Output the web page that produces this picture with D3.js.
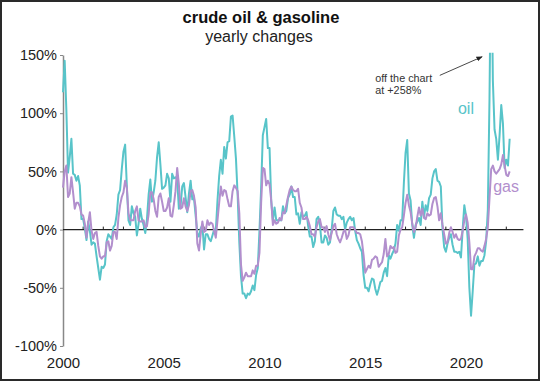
<!DOCTYPE html>
<html>
<head>
<meta charset="utf-8">
<script src="https://cdn.jsdelivr.net/npm/d3@7"></script>
<style>
  body { margin: 0; background: #fff; }
  text { font-family: "Liberation Sans", Arial, sans-serif; }
</style>
</head>
<body>
<div id="chart"></div>
<script>
// monthly yearly changes (%), Jan 2000 .. Mar 2022
var startYear = 2000;

var oilChange = [
  118,145,103,49,62,78,48,47,42,46,38,9,
  9,1,-9,7,-1,-13,-11,-12,-23,-33,-43,-32,
  -33,-30,-10,-4,-6,-8,2,4,13,30,34,52,
  67,73,38,8,4,20,14,11,-5,5,18,9,
  4,-3,9,30,43,24,32,42,62,75,56,35,
  36,38,48,44,24,48,44,45,43,18,20,37,
  40,28,15,31,42,26,27,12,-3,-6,1,4,
  -17,-4,-4,-8,-10,-5,0,-1,25,46,60,48,
  71,61,75,76,97,98,80,61,30,-11,-40,-55,
  -55,-59,-55,-56,-53,-48,-52,-39,-33,-1,36,81,
  88,95,70,70,25,8,19,8,8,8,8,20,
  14,16,27,30,37,28,28,13,14,5,15,11,
  12,15,3,-6,-6,-15,-10,9,11,4,-11,-11,
  -5,-7,-13,-11,0,16,19,13,12,12,9,11,
  0,6,9,11,8,10,-1,-9,-12,-16,-19,-39,
  -50,-50,-53,-47,-42,-43,-51,-56,-51,-45,-44,-37,
  -33,-40,-22,-25,-21,-18,-12,4,-1,8,8,40,
  66,77,31,25,4,-7,4,7,10,4,24,11,
  21,16,27,30,44,50,52,42,41,37,1,-15,
  -19,-12,-7,-4,-13,-19,-19,-20,-19,-24,0,21,
  12,-8,-50,-74,-53,-30,-29,-23,-31,-27,-27,-22,
  -10,17,113,258,128,86,78,60,81,107,91,53,
  60,55,78
];

var gasChange = [
  36,50,55,28,31,45,32,18,23,23,20,13,
  12,5,-7,6,15,-1,-8,-3,-2,-14,-23,-25,
  -23,-23,-11,-10,-18,-14,-2,-2,-8,10,21,28,
  32,42,36,14,8,8,8,16,20,8,7,7,
  8,2,3,13,32,32,26,16,11,28,31,24,
  16,16,19,27,12,11,21,33,53,39,18,19,
  27,20,16,21,33,34,29,19,-12,-18,-4,7,
  -2,-1,8,4,6,5,-1,-7,8,23,37,29,
  34,33,26,20,20,33,38,36,33,14,-30,-44,
  -41,-37,-40,-40,-40,-35,-38,-31,-31,-20,23,53,
  52,38,42,39,25,4,8,5,6,10,8,15,
  14,21,28,34,37,34,33,33,35,23,19,9,
  9,11,8,3,-4,-4,-6,2,7,9,2,2,
  -2,3,-4,-9,-3,3,5,-4,-8,-11,-7,-2,
  0,-8,-5,2,2,2,0,-3,-3,-4,-10,-22,
  -37,-34,-31,-33,-26,-25,-23,-24,-32,-30,-28,-21,
  -8,-23,-21,-14,-16,-15,-20,-19,-5,0,2,12,
  23,30,21,15,5,-2,2,11,19,12,18,10,
  9,14,12,13,22,27,28,20,8,14,4,-4,
  -12,-11,-3,2,-2,-7,-4,-8,-9,-8,-1,8,
  13,6,-11,-34,-34,-23,-20,-16,-16,-18,-19,-14,
  -8,2,27,52,55,50,48,50,52,56,64,55,
  47,46,50
];

var yTicks = [-100, -50, 0, 50, 100, 150];
var xLabels = [2000, 2005, 2010, 2015, 2020];
var zeroTicks = d3.range(2001, 2023);

var width = 540, height = 381;
var margin = { top: 55, bottom: 35, left: 63, right: 17 };

var svg = d3.select("#chart")
  .append("svg")
  .attr("width", width)
  .attr("height", height);

// frame
svg.append("rect")
  .attr("x", 1).attr("y", 1)
  .attr("width", width - 2).attr("height", height - 2)
  .attr("fill", "#fff")
  .attr("stroke", "#2a2a2a")
  .attr("stroke-width", 2);

var xScale = d3.scaleLinear()
  .domain([2000, 2020])
  .range([margin.left, 466]);

var yScale = d3.scaleLinear()
  .domain([-100, 150])
  .range([height - 35, margin.top]);

// titles
svg.append("text")
  .attr("x", 261).attr("y", 23)
  .attr("text-anchor", "middle")
  .style("font-weight", "bold")
  .style("font-size", "16.5px")
  .attr("fill", "#111")
  .text("crude oil & gasoline");

svg.append("text")
  .attr("x", 259).attr("y", 42)
  .attr("text-anchor", "middle")
  .style("font-size", "16px")
  .attr("fill", "#222")
  .text("yearly changes");

// y axis
var yAxis = svg.append("g")
  .attr("transform", `translate(${margin.left},0)`)
  .call(d3.axisLeft(yScale).tickValues(yTicks).tickSize(3).tickSizeOuter(0).tickPadding(3)
    .tickFormat(d => d + "%"));
yAxis.select(".domain").attr("stroke", "#888").attr("stroke-width", 1.5);
yAxis.selectAll(".tick line").attr("stroke", "#888");
yAxis.selectAll("text").style("font-size", "14.5px").attr("fill", "#222");

// x labels
var xAxis = svg.append("g")
  .attr("transform", `translate(0,${yScale(-100) + 8})`)
  .call(d3.axisBottom(xScale).tickValues(xLabels).tickSize(0).tickPadding(3).tickFormat(d3.format("d")));
xAxis.select(".domain").remove();
xAxis.selectAll("text").style("font-size", "15px").attr("fill", "#222");

// zero line with yearly ticks
svg.append("line")
  .attr("x1", xScale(2000)).attr("x2", xScale(2022.85))
  .attr("y1", yScale(0)).attr("y2", yScale(0))
  .attr("stroke", "#222").attr("stroke-width", 1.2);

svg.selectAll(".zt")
  .data(zeroTicks)
  .enter().append("line")
  .attr("class", "zt")
  .attr("x1", d => xScale(d)).attr("x2", d => xScale(d))
  .attr("y1", yScale(0)).attr("y2", yScale(0) - 3)
  .attr("stroke", "#222").attr("stroke-width", 1);

// clip so the 2021 spike runs off the chart
svg.append("clipPath").attr("id", "plotClip")
  .append("rect")
  .attr("x", 0).attr("y", yScale(152))
  .attr("width", width).attr("height", height);

var line = d3.line()
  .x((d, i) => xScale(startYear + i / 12))
  .y(d => yScale(d));

var lines = svg.append("g").attr("clip-path", "url(#plotClip)");

lines.append("path")
  .datum(oilChange)
  .attr("fill", "none")
  .attr("stroke", "#58c4c9")
  .attr("stroke-width", 2)
  .attr("stroke-linejoin", "round")
  .attr("d", line);

lines.append("path")
  .datum(gasChange)
  .attr("fill", "none")
  .attr("stroke", "#b28fcd")
  .attr("stroke-width", 2)
  .attr("stroke-linejoin", "round")
  .attr("d", line);

// series labels
svg.append("text")
  .attr("x", xScale(2019.6)).attr("y", yScale(99))
  .style("font-size", "16px")
  .attr("fill", "#58c4c9")
  .text("oil");

svg.append("text")
  .attr("x", xScale(2021.35)).attr("y", yScale(32))
  .style("font-size", "16px")
  .attr("fill", "#b28fcd")
  .text("gas");

// annotation
svg.append("defs").append("marker")
  .attr("id", "arrow")
  .attr("viewBox", "0 0 10 10")
  .attr("refX", 9).attr("refY", 5)
  .attr("markerWidth", 7).attr("markerHeight", 7)
  .attr("orient", "auto")
  .append("path")
  .attr("d", "M0,1 L10,5 L0,9 Z")
  .attr("fill", "#222");

svg.append("line")
  .attr("x1", xScale(2018.7)).attr("y1", yScale(132.5))
  .attr("x2", xScale(2020.8)).attr("y2", yScale(148.5))
  .attr("stroke", "#333").attr("stroke-width", 0.9)
  .attr("marker-end", "url(#arrow)");

var note = svg.append("text")
  .style("font-size", "10.8px")
  .attr("fill", "#333");
note.append("tspan").attr("x", xScale(2015.5)).attr("y", yScale(127)).text("off the chart");
note.append("tspan").attr("x", xScale(2015.5)).attr("y", yScale(116.5)).text("at +258%");
</script>
</body>
</html>
